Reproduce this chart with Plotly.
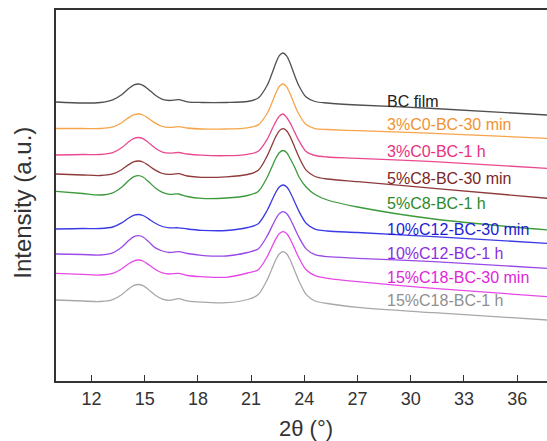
import plotly.graph_objects as go

# 2theta sampling positions (degrees)
two_theta = [10, 11.5, 12.5, 13.2, 13.7, 14.1, 14.4, 14.65, 14.9, 15.2, 15.6, 16.0, 16.4, 16.9, 17.4,
             18.2, 19.6, 20.8, 21.4, 21.9, 22.15, 22.4, 22.6, 22.8, 23.0, 23.2, 23.45, 23.7, 24.1,
             24.6, 25.3, 27, 31.3, 37.7]

# Stacked intensity readings (a.u., offsets as in the figure; plotted top-down from 381)
_top = 381
bc_film = [_top - v for v in [
    102, 103, 102.5, 99.8, 94.7, 88.5, 84.9, 84, 85.3, 89.2, 95.2, 99.3, 100.5, 99.6, 101.8,
    102.5, 102.5, 101.5, 98.1, 85.5, 74.8, 62.7, 55.4, 53, 55.9, 63.2, 75.3, 86, 97.1,
    101.5, 103, 105, 108.5, 115]]
c0_30min = [_top - v for v in [
    128.5, 128.5, 128.5, 126.9, 122.7, 117.6, 114.7, 114, 115, 118.2, 123.1, 126.5, 127.4, 126.7, 128,
    129, 129, 127.8, 124.9, 113.5, 103.8, 92.8, 86.2, 84, 86.8, 93.8, 104.8, 114.5, 124.6,
    128.7, 129.5, 130.7, 133.3, 138.3]]
c0_1h = [_top - v for v in [
    155, 154.5, 154.5, 152.6, 147.7, 141.8, 138.4, 137.5, 138.7, 142.4, 148.2, 152.1, 153.2, 152.5, 154,
    155.2, 155.7, 154.3, 151.3, 139.4, 130.4, 121.4, 116, 114, 117.5, 122.9, 131.9, 140.9, 151.5,
    155.5, 157, 158.3, 161.7, 168.3]]
c8_30min = [_top - v for v in [
    174, 175, 175.5, 173.9, 169.7, 164.6, 161.7, 161, 162, 165.2, 170.1, 173.5, 174.4, 173.7, 176,
    177.3, 176.8, 174.5, 170.3, 156.1, 146.2, 136.3, 130.6, 128.7, 130.7, 136.6, 146.9, 157.3, 170.1,
    176.5, 179, 181.7, 188.3, 198.3]]
c8_1h = [_top - v for v in [
    191.3, 193.5, 195, 192.9, 187.3, 180.5, 176.7, 175.7, 177, 181.3, 187.9, 192.3, 194.3, 194, 196.5,
    198.3, 198, 195.5, 191.4, 177.5, 167.7, 158, 152.4, 150.5, 152.5, 158.5, 167, 177, 187,
    194.5, 200, 207, 219, 230]]
c12_30min = [_top - v for v in [
    229, 228.5, 228.5, 227, 222.9, 218, 215.2, 214.5, 215.5, 218.6, 223.3, 226.5, 227.8, 227.8, 229,
    230.3, 230.5, 227.5, 223.7, 210.5, 201.3, 192, 186.8, 185, 186.8, 192.3, 201.8, 211.4, 223.2,
    229.1, 231, 232.5, 236.7, 243.3]]
c12_1h = [_top - v for v in [
    254, 254.5, 255, 252.9, 247.3, 240.5, 236.7, 235.7, 237, 241.3, 247.9, 251, 252.5, 251.7, 253.5,
    255.3, 256, 252.5, 248.9, 236.2, 227.4, 218.5, 213.4, 211.7, 213.5, 218.8, 228.1, 237.4, 248.9,
    254.7, 256.7, 258.3, 261.7, 268.3]]
c18_30min = [_top - v for v in [
    273.3, 274.3, 275, 273.4, 269, 263.8, 260.8, 260, 261, 264.4, 269.5, 272.9, 274, 273.3, 275.5,
    276.7, 277.3, 273, 269.8, 256.8, 247.7, 238.6, 233.4, 231.7, 233.5, 239, 248.5, 258, 269.8,
    275.6, 278.3, 281.7, 288.3, 296.7]]
c18_1h = [_top - v for v in [
    300, 301, 301.5, 299.6, 294.7, 288.8, 285.4, 284.5, 285.7, 289.4, 295.2, 299.1, 300.3, 298.7, 300.8,
    302.2, 302.7, 299.5, 294.6, 280, 269.8, 259.5, 253.7, 251.7, 253.7, 259.8, 270.5, 281.2, 294.4,
    301, 303.5, 307.3, 312.7, 320]]

names = ["BC film", "3%C0-BC-30 min", "3%C0-BC-1 h", "5%C8-BC-30 min", "5%C8-BC-1 h",
         "10%C12-BC-30 min", "10%C12-BC-1 h", "15%C18-BC-30 min", "15%C18-BC-1 h"]
series = [bc_film, c0_30min, c0_1h, c8_30min, c8_1h, c12_30min, c12_1h, c18_30min, c18_1h]
line_colors = ["#505050", "#f7a44a", "#ea4a90", "#8e3a3a", "#3c9a3c", "#3a3ae6", "#9a4ae6", "#e64ae6", "#a8a8a8"]
text_colors = ["#222222", "#f39230", "#e8307e", "#7a2626", "#2a8a2a", "#1c1cd6", "#8a2ee0", "#e026d8", "#8f8f8f"]
label_y = [280, 256.7, 230, 202.7, 177.7, 151.7, 127.7, 103.7, 80.3]
label_x = 28.55
x_ticks = [12, 15, 18, 21, 24, 27, 30, 33, 36]

FONT = "Liberation Sans, Arial, sans-serif"

fig = go.Figure()
for nm, ys, col in zip(names, series, line_colors):
    fig.add_trace(go.Scatter(x=two_theta, y=ys, mode="lines", name=nm,
                             line=dict(color=col, width=1.3, shape="spline", smoothing=0.8),
                             showlegend=False, hoverinfo="skip"))

for nm, yv, tc in zip(names, label_y, text_colors):
    fig.add_annotation(x=label_x, y=yv, text=nm, showarrow=False, xanchor="left", yanchor="middle",
                       font=dict(family=FONT, size=16, color=tc))

# axis titles
fig.add_annotation(xref="paper", yref="paper", x=0.51, y=-0.127, text="2θ (°)", showarrow=False,
                   xanchor="center", yanchor="middle", font=dict(family=FONT, size=22, color="#333333"))
fig.add_annotation(xref="paper", yref="paper", x=-0.0688, y=0.481, text="Intensity (a.u.)", showarrow=False,
                   textangle=-90, xanchor="center", yanchor="middle",
                   font=dict(family=FONT, size=24, color="#333333"))

fig.update_layout(
    width=547, height=441,
    margin=dict(l=55.5, r=0, t=10, b=60, autoexpand=False),
    paper_bgcolor="white", plot_bgcolor="white",
    font=dict(family=FONT, color="#333333"),
)
fig.update_xaxes(range=[10, 37.68], tickmode="array", tickvals=x_ticks,
                 ticks="inside", ticklen=6, tickwidth=1.2, tickcolor="#333333",
                 showline=True, linecolor="#333333", linewidth=1.8, mirror=True,
                 showgrid=False, zeroline=False, automargin=False,
                 tickfont=dict(size=18, color="#333333"))
fig.update_yaxes(range=[0, 371], showticklabels=False, ticks="",
                 showline=True, linecolor="#333333", linewidth=1.8, mirror=False,
                 showgrid=False, zeroline=False, automargin=False)

fig.write_html("out.html", config={"displayModeBar": False},
               post_script="document.body.style.margin='0px';document.body.style.overflow='hidden';")
